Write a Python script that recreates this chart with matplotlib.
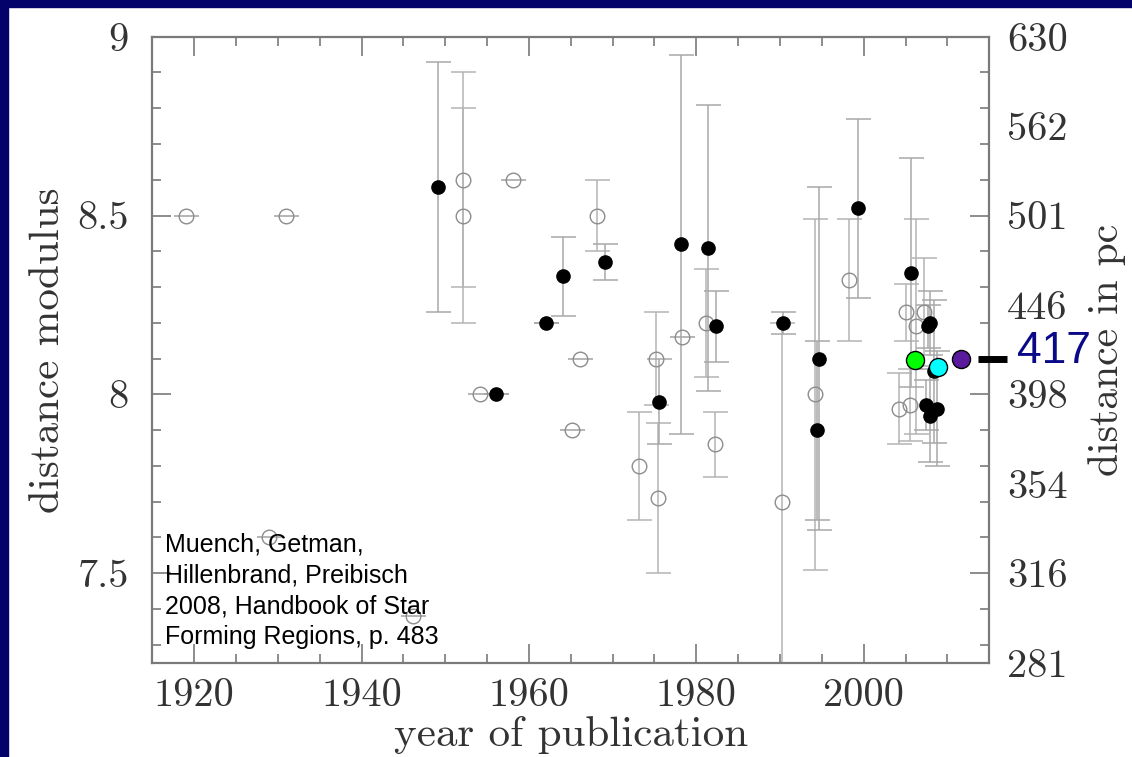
import matplotlib
matplotlib.use("Agg")
import matplotlib.pyplot as plt
from matplotlib.patches import Rectangle
from matplotlib.ticker import MultipleLocator, NullLocator

# literature distance moduli, open symbols (zero error -> only the cap bar is drawn)
open_year = [1919.0, 1931.0, 1928.9, 1946.1, 1952.1, 1952.1, 1954.1, 1958.1,
             1965.1, 1966.1, 1968.1, 1973.2, 1975.2, 1975.4, 1978.3, 1981.1,
             1982.2, 1990.2, 1994.2, 1998.3, 2004.2, 2005.1, 2005.5, 2006.2,
             2007.2]
open_dm = [8.50, 8.50, 7.60, 7.38, 8.60, 8.50, 8.00, 8.60,
           7.90, 8.10, 8.50, 7.80, 8.10, 7.71, 8.16, 8.20,
           7.86, 7.70, 8.00, 8.32, 7.96, 8.23, 7.97, 8.19,
           8.23]
open_err = [0.0, 0.0, 0.0, 0.0, 0.30, 0.30, 0.0, 0.0,
            0.0, 0.0, 0.10, 0.15, 0.13, 0.21, 0.0, 0.15,
            0.09, 0.50, 0.49, 0.17, 0.10, 0.08, 0.10, 0.30,
            0.15]

# filled symbols
filled_year = [1949.1, 1956.1, 1962.1, 1964.1, 1969.1, 1975.6, 1978.2, 1981.4,
               1982.4, 1990.4, 1994.6, 1994.4, 1999.3, 2005.7, 2007.7, 2007.9,
               2008.4, 2007.4, 2007.9, 2008.7]
filled_dm = [8.58, 8.00, 8.20, 8.33, 8.37, 7.98, 8.42, 8.41,
             8.19, 8.20, 8.10, 7.90, 8.52, 8.34, 8.19, 8.20,
             8.065, 7.97, 7.94, 7.96]
filled_err = [0.35, 0.0, 0.0, 0.11, 0.05, 0.12, 0.53, 0.40,
              0.10, 0.03, 0.48, 0.25, 0.25, 0.32, 0.06, 0.09,
              0.20, 0.07, 0.13, 0.16]

# newer measurements
new_year = [2006.1, 2008.9, 2011.6]
new_dm = [8.097, 8.076, 8.100]
new_colors = ["#00ff00", "#00ffff", "#5a1a9c"]

marked_dm = 8.1

year_ticks = [1920, 1940, 1960, 1980, 2000]
dm_ticks = [7.5, 8.0, 8.5, 9.0]
dm_labels = ["7.5", "8", "8.5", "9"]
pc_ticks = [7.25, 7.5, 7.75, 8.0, 8.25, 8.5, 8.75, 9.0]
pc_labels = [str(int(10 ** ((m + 5) / 5))) for m in pc_ticks]

note = "Muench, Getman,\nHillenbrand, Preibisch\n2008, Handbook of Star\nForming Regions, p. 483"

serif = "cmr10"
txt_col = "#333333"

fig = plt.figure(figsize=(11.32, 7.57), dpi=100, facecolor="white")
# navy frame on the left and top edge
fig.patches.append(Rectangle((0, 0), 8 / 1132, 1, transform=fig.transFigure,
                             color="#02026a", zorder=0))
fig.patches.append(Rectangle((0, 1 - 7 / 757), 1, 7 / 757, transform=fig.transFigure,
                             color="#02026a", zorder=0))

ax = fig.add_axes([0.1345, 0.1246, 0.7394, 0.8269])
ax.set_xlim(1915, 2015)
ax.set_ylim(7.25, 9.0)

ax.errorbar(open_year, open_dm, yerr=open_err, fmt="none", ecolor="#b4b4b4",
            elinewidth=1.1, capsize=9, capthick=1.1, zorder=1)
ax.errorbar(filled_year, filled_dm, yerr=filled_err, fmt="none", ecolor="#a8a8a8",
            elinewidth=1.1, capsize=9, capthick=1.1, zorder=1)
ax.plot(open_year, open_dm, "o", ms=10.5, mfc="none", mec="#8c8c8c", mew=1.0, zorder=2)
ax.plot(filled_year, filled_dm, "o", ms=9.5, color="black", zorder=3)
for yr, dm, c in zip(new_year, new_dm, new_colors):
    ax.plot(yr, dm, "o", ms=13, mfc=c, mec="black", mew=1.0, zorder=5, clip_on=False)

# marker for the adopted distance
ax.plot([2013.6, 2017.1], [marked_dm, marked_dm], color="black", lw=5,
        solid_capstyle="butt", clip_on=False, zorder=6)
ax.text(2018.3, marked_dm + 0.02, f"{10 ** ((marked_dm + 5) / 5):.0f}",
        color="#0a0a88", fontsize=32, family="Liberation Sans",
        ha="left", va="center", clip_on=False)

ax.text(0.0152, 0.208, note, transform=ax.transAxes, fontsize=18,
        family="Liberation Sans", color="black", ha="left", va="top",
        linespacing=1.36, zorder=4)

ax.set_xticks(year_ticks)
ax.set_xticklabels([str(y) for y in year_ticks])
ax.set_yticks(dm_ticks)
ax.set_yticklabels(dm_labels)
ax.xaxis.set_minor_locator(MultipleLocator(5))
ax.yaxis.set_minor_locator(MultipleLocator(0.1))

ax2 = ax.twinx()
ax2.set_ylim(ax.get_ylim())
ax2.set_yticks(pc_ticks)
ax2.set_yticklabels(pc_labels)
ax2.yaxis.set_minor_locator(NullLocator())
ax2.tick_params(axis="y", length=0, pad=13, labelsize=29, labelcolor=txt_col)
for lab in ax2.get_yticklabels():
    lab.set_family(serif)
for sp in ax2.spines.values():
    sp.set_visible(False)

ax.tick_params(which="both", direction="in", top=True, right=True,
               color="#6e6e6e", width=1.1, labelsize=29, labelcolor=txt_col)
ax.tick_params(which="major", length=13.5)
ax.tick_params(which="minor", length=6.5)
ax.tick_params(axis="y", pad=17)
ax.tick_params(axis="x", pad=11)
for lab in ax.get_xticklabels() + ax.get_yticklabels():
    lab.set_family(serif)
for sp in ax.spines.values():
    sp.set_color("#7a7a7a")
    sp.set_linewidth(1.6)

ax.set_xlabel("year of publication", family=serif, fontsize=31, color=txt_col)
ax.xaxis.label.set_va("center")
ax.xaxis.set_label_coords(0.5, -0.1155)
ax.set_ylabel("distance modulus", family=serif, fontsize=31, color=txt_col)
ax.yaxis.label.set_va("center")
ax.yaxis.set_label_coords(-0.124, 0.5)
ax2.set_ylabel("distance in pc", family=serif, fontsize=30, color=txt_col)
ax2.yaxis.label.set_va("center")
ax2.yaxis.set_label_coords(1.141, 0.5)

fig.savefig("out.png", dpi=100)
